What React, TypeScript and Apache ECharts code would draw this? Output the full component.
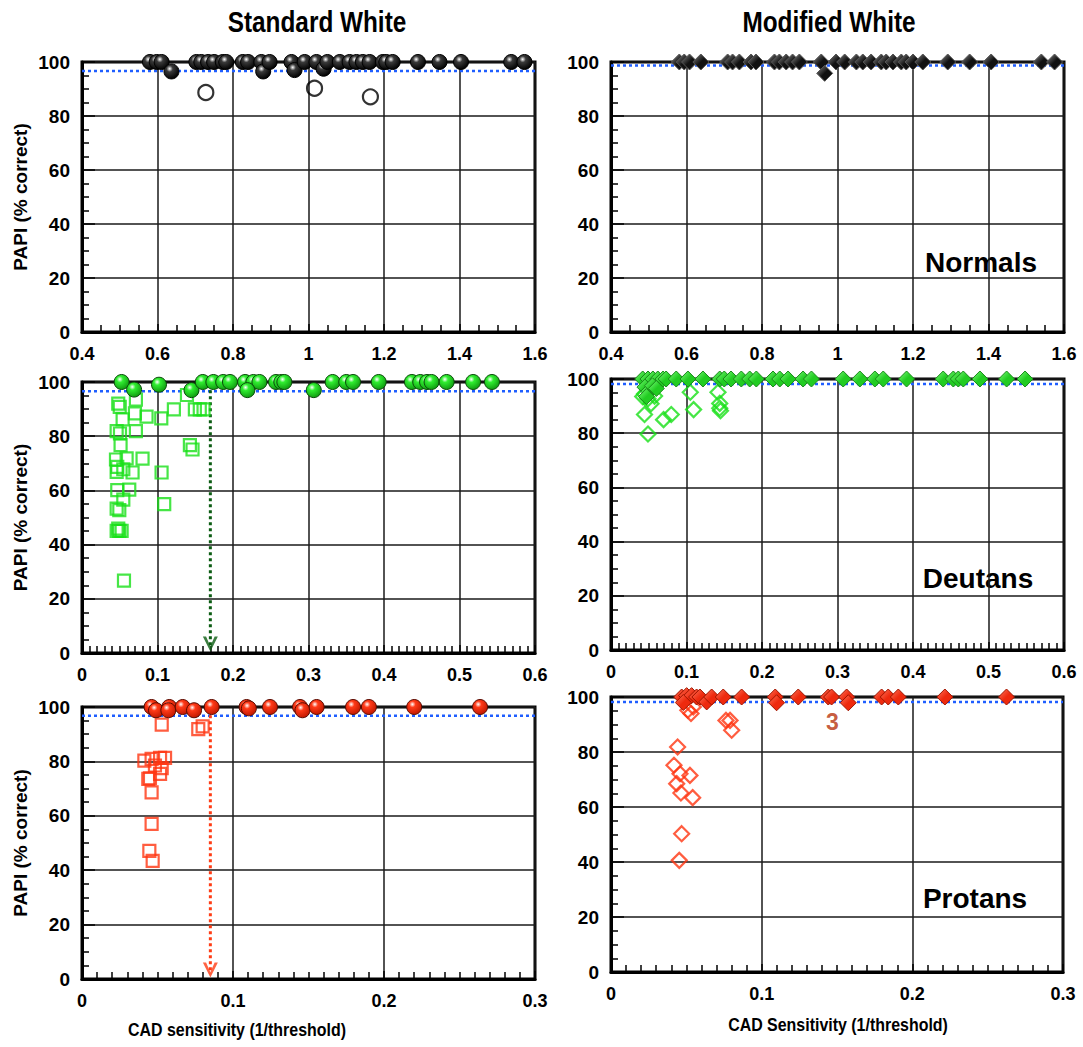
import React, { useEffect, useRef } from "react";
import * as echarts from "echarts";

const FONT = "'Liberation Sans', Arial, Helvetica, sans-serif";

// ---------- Normals ----------
const stdNormalsFilled = [
  [0.58, 100], [0.598, 100], [0.611, 100], [0.637, 96.5], [0.703, 100], [0.716, 100], [0.734, 100],
  [0.75, 100], [0.773, 100], [0.782, 100], [0.826, 100], [0.84, 100], [0.875, 100], [0.88, 96.5],
  [0.897, 100], [0.955, 100], [0.963, 97], [0.99, 100], [1.021, 100], [1.04, 97.5], [1.05, 100],
  [1.083, 100], [1.109, 100], [1.127, 100], [1.144, 100], [1.162, 100], [1.197, 100], [1.206, 100],
  [1.223, 100], [1.29, 100], [1.347, 100], [1.404, 100], [1.537, 100], [1.572, 100],
];
const stdNormalsOpen = [[0.728, 88.7], [1.016, 90.3], [1.164, 87.1]];
const stdNormalsCutoff = 96.7;

const modNormalsFilled = [
  [0.581, 100], [0.594, 100], [0.608, 100], [0.638, 100], [0.709, 100], [0.722, 100], [0.74, 100],
  [0.771, 100], [0.784, 100], [0.833, 100], [0.846, 100], [0.864, 100], [0.881, 100], [0.899, 100],
  [0.957, 100], [0.966, 95.8], [0.996, 100], [1.019, 100], [1.05, 100], [1.067, 100], [1.089, 100],
  [1.116, 100], [1.129, 100], [1.147, 100], [1.169, 100], [1.182, 100], [1.2, 100], [1.226, 100],
  [1.292, 100], [1.35, 100], [1.407, 100], [1.54, 100], [1.575, 100],
];
const modNormalsCutoff = 98.7;

// ---------- Deutans ----------
const stdDeutansFilled = [
  [0.0525, 100], [0.069, 97.2], [0.102, 99], [0.145, 97], [0.16, 100], [0.174, 100], [0.187, 100],
  [0.196, 100], [0.216, 100], [0.227, 100], [0.235, 100], [0.219, 97], [0.257, 100], [0.264, 100],
  [0.268, 100], [0.307, 97], [0.332, 100], [0.35, 100], [0.359, 100], [0.393, 100], [0.437, 100],
  [0.448, 100], [0.457, 100], [0.463, 100], [0.483, 100], [0.518, 100], [0.543, 100],
];
const stdDeutansOpen = [
  [0.048, 92.0], [0.05, 90.8], [0.0714, 93.5], [0.0701, 88.4], [0.0538, 86.2], [0.0855, 87.2],
  [0.105, 86.6], [0.1217, 89.9], [0.139, 95.2], [0.1495, 89.9], [0.156, 89.9], [0.161, 89.9],
  [0.0459, 81.9], [0.0503, 81.0], [0.0714, 81.9], [0.0511, 76.7], [0.1429, 76.7], [0.1464, 75.1],
  [0.045, 71.4], [0.0591, 71.8], [0.0802, 71.7], [0.0467, 68.7], [0.0547, 67.8], [0.0459, 66.8],
  [0.067, 66.6], [0.1054, 66.6], [0.0467, 60.1], [0.0626, 60.3], [0.0547, 56.6], [0.0459, 53.3],
  [0.0494, 52.7], [0.1089, 54.9], [0.048, 45.9], [0.0494, 45.1], [0.0459, 45.1], [0.0525, 45.1],
  [0.0556, 26.7],
];
const stdDeutansCutoff = 96.6;
const stdDeutansArrowX = 0.17;

const modDeutansFilled = [
  [0.042, 100], [0.049, 100], [0.0555, 100], [0.062, 100], [0.069, 100], [0.073, 100], [0.0864, 100],
  [0.1019, 100], [0.1218, 100], [0.144, 100], [0.15, 100], [0.159, 100], [0.1726, 100], [0.1837, 100],
  [0.1925, 100], [0.2146, 100], [0.2235, 100], [0.2345, 100], [0.2544, 100], [0.2655, 100],
  [0.3075, 100], [0.3296, 100], [0.3495, 100], [0.3606, 100], [0.3915, 100], [0.44, 100],
  [0.4534, 100], [0.46, 100], [0.4666, 100], [0.4887, 100], [0.524, 100], [0.5484, 100],
  [0.045, 97], [0.05, 95.5], [0.047, 93.5], [0.055, 97.5], [0.06, 96.5],
];
const modDeutansOpen = [
  [0.0444, 94.5], [0.051, 95.8], [0.055, 97.6], [0.042, 93.5], [0.049, 92.7], [0.053, 90.9],
  [0.0577, 93.7], [0.0444, 86.9], [0.0696, 85.0], [0.0798, 86.9], [0.049, 79.7], [0.105, 95.1],
  [0.1094, 88.7], [0.1417, 95.1], [0.144, 91.0], [0.144, 89.2], [0.145, 88.3],
];
const modDeutansCutoff = 98.2;

// ---------- Protans ----------
const stdProtansFilled = [
  [0.0461, 100], [0.049, 98.8], [0.0578, 100], [0.0572, 98.8], [0.0667, 100], [0.0742, 98.8],
  [0.0859, 100], [0.109, 100], [0.1105, 99.5], [0.1245, 100], [0.1444, 100], [0.146, 98.8],
  [0.1554, 100], [0.1795, 100], [0.19, 100], [0.22, 100], [0.2636, 100],
];
const stdProtansOpen = [
  [0.0528, 93.5], [0.077, 91.9], [0.0799, 92.9], [0.0413, 80.3], [0.0461, 80.9], [0.0517, 81.3],
  [0.055, 81.3], [0.0483, 78.5], [0.0528, 77.5], [0.0517, 75.4], [0.045, 73.8], [0.0439, 73.6],
  [0.0461, 68.6], [0.0461, 57.0], [0.0446, 47.1], [0.0468, 43.4],
];
const stdProtansCutoff = 96.8;
const stdProtansArrowX = 0.085;

const modProtansFilled = [
  [0.0469, 100], [0.0502, 100.5], [0.0535, 100.5], [0.0568, 100], [0.059, 100], [0.048, 98],
  [0.0635, 98.2], [0.0668, 100], [0.0745, 100], [0.0867, 100], [0.109, 100], [0.1099, 97.9],
  [0.1243, 100], [0.1442, 100], [0.1464, 100], [0.1564, 100], [0.1575, 97.9], [0.1796, 100],
  [0.184, 100], [0.1907, 100], [0.2216, 100], [0.2625, 100],
];
const modProtansOpen = [
  [0.0531, 94], [0.0546, 96.4], [0.051, 95.2], [0.0763, 91.5], [0.079, 91.5], [0.0801, 87.9],
  [0.0442, 81.8], [0.0418, 75.2], [0.0458, 72.1], [0.0524, 71.5], [0.0436, 68.5], [0.0464, 65.1],
  [0.0542, 63.4], [0.0469, 50.3], [0.0453, 40.6],
];
const modProtansCutoff = 98.2;
const modProtansNote = { x: 0.147, y: 90.9, text: "3" };

// ---------- axes ----------
const xRanges = [
  { min: 0.4, max: 1.6, interval: 0.2, minor: 4 },
  { min: 0.4, max: 1.6, interval: 0.2, minor: 4 },
  { min: 0, max: 0.6, interval: 0.1, minor: 10 },
  { min: 0, max: 0.6, interval: 0.1, minor: 10 },
  { min: 0, max: 0.3, interval: 0.1, minor: 10 },
  { min: 0, max: 0.3, interval: 0.1, minor: 10 },
];
const yTitle = "PAPI (% correct)";
const colTitles = ["Standard White", "Modified White"];
const groupNames = ["Normals", "Deutans", "Protans"];
const xTitles = ["CAD sensitivity (1/threshold)", "CAD Sensitivity (1/threshold)"];

const grids = [
  { left: 82, top: 62, width: 453, height: 270 },
  { left: 611, top: 62, width: 453, height: 270 },
  { left: 82, top: 382, width: 453, height: 271 },
  { left: 611, top: 379, width: 453, height: 271 },
  { left: 82, top: 707, width: 453, height: 272 },
  { left: 611, top: 697, width: 452, height: 275 },
];

const sphere = (mid: string, edge: string) => ({
  type: "radial", x: 0.38, y: 0.32, r: 0.7,
  colorStops: [
    { offset: 0, color: "#ffffff" },
    { offset: 0.3, color: mid },
    { offset: 1, color: edge },
  ],
});
const diamondFill = (light: string, dark: string) => ({
  type: "linear", x: 0, y: 0, x2: 1, y2: 1,
  colorStops: [
    { offset: 0, color: light },
    { offset: 0.5, color: dark },
    { offset: 1, color: dark },
  ],
});

const CHEVRON = "path://M0,0 L3,0 L7,9 L11,0 L14,0 L7,14 Z";

export default function App() {
  const ref = useRef<HTMLDivElement>(null);
  useEffect(() => {
    if (!ref.current) return;
    const chart = echarts.init(ref.current, undefined, { renderer: "svg" });
    const lbl = { fontFamily: FONT, fontWeight: "bold", fontSize: 18, color: "#000" };

    const xAxis = xRanges.map((r, i) => ({
      type: "value", gridIndex: i, min: r.min, max: r.max, interval: r.interval,
      axisLine: { show: true, onZero: false, lineStyle: { color: "#000", width: 3 } },
      axisTick: { show: true, inside: true, length: 8, lineStyle: { color: "#000", width: 1.5 } },
      minorTick: { show: true, splitNumber: r.minor, length: 7, lineStyle: { color: "#000", width: 1.5 } },
      splitLine: { show: true, lineStyle: { color: "#1a1a1a", width: 1.5 } },
      axisLabel: { ...lbl, margin: 13 },
    }));
    const yAxis = grids.map((_, i) => ({
      type: "value", gridIndex: i, min: 0, max: 100, interval: 20,
      name: i % 2 === 0 ? yTitle : "",
      nameLocation: "middle", nameGap: 52, nameRotate: 90,
      nameTextStyle: { ...lbl, fontSize: 19 },
      axisLine: { show: true, onZero: false, lineStyle: { color: "#000", width: 3 } },
      axisTick: { show: true, inside: true, length: 13, lineStyle: { color: "#000", width: 1.5 } },
      minorTick: { show: true, splitNumber: 4, length: 7, lineStyle: { color: "#000", width: 1.5 } },
      splitLine: { show: true, lineStyle: { color: "#1a1a1a", width: 1.5 } },
      axisLabel: { ...lbl, fontSize: 19, margin: 12 },
    }));

    const series: any[] = [];
    const cutoff = (i: number, v: number) => {
      series.push({
        type: "line", xAxisIndex: i, yAxisIndex: i, silent: true, symbol: "none", z: 2,
        data: [[xRanges[i].min, v], [xRanges[i].max, v]],
        lineStyle: { color: "#1f5eff", width: 2.5, type: [3, 3] },
      });
    };
    const arrow = (i: number, x: number, color: string) => {
      series.push({
        type: "line", xAxisIndex: i, yAxisIndex: i, silent: true, symbol: "none", z: 2,
        data: [[x, 97], [x, 2]],
        lineStyle: { color, width: 3, type: [3, 3] },
      });
      series.push({
        type: "scatter", xAxisIndex: i, yAxisIndex: i, silent: true, z: 3, clip: false,
        data: [[x, 0]], symbol: CHEVRON, symbolSize: [15, 15], symbolOffset: [0, -9],
        itemStyle: { color },
      });
    };
    const open = (i: number, data: number[][], symbol: string, size: number, color: string) => {
      series.push({
        type: "scatter", xAxisIndex: i, yAxisIndex: i, clip: false, z: 4, data, symbol, symbolSize: size,
        itemStyle: { color: "rgba(0,0,0,0)", borderColor: color, borderWidth: 2.2 },
      });
    };
    const filled = (i: number, data: number[][], symbol: string, size: number, fill: any, border: string) => {
      series.push({
        type: "scatter", xAxisIndex: i, yAxisIndex: i, clip: false, z: 5, data, symbol, symbolSize: size,
        itemStyle: { color: fill, borderColor: border, borderWidth: 1, opacity: 1 },
      });
    };

    // Normals
    cutoff(0, stdNormalsCutoff);
    open(0, stdNormalsOpen, "circle", 15, "#000");
    filled(0, stdNormalsFilled, "circle", 15, sphere("#3a3a3a", "#000"), "#000");
    cutoff(1, modNormalsCutoff);
    filled(1, modNormalsFilled, "diamond", 16, diamondFill("#8c8c8c", "#111"), "#555");
    // Deutans
    cutoff(2, stdDeutansCutoff);
    arrow(2, stdDeutansArrowX, "#0b5c12");
    open(2, stdDeutansOpen, "rect", 12, "#18e018");
    filled(2, stdDeutansFilled, "circle", 15, sphere("#30ee30", "#109a10"), "#0a4a0a");
    cutoff(3, modDeutansCutoff);
    open(3, modDeutansOpen, "diamond", 15, "#18e018");
    filled(3, modDeutansFilled, "diamond", 16, diamondFill("#80ff80", "#22cc22"), "#1a8a1a");
    // Protans
    cutoff(4, stdProtansCutoff);
    arrow(4, stdProtansArrowX, "#ff3c14");
    open(4, stdProtansOpen, "rect", 12, "#ff3410");
    filled(4, stdProtansFilled, "circle", 15, sphere("#ff3a18", "#c01800"), "#5a0a00");
    cutoff(5, modProtansCutoff);
    open(5, modProtansOpen, "diamond", 15, "#ff3410");
    filled(5, modProtansFilled, "diamond", 16, diamondFill("#ff7a60", "#ee2a0e"), "#a01500");
    series.push({
      type: "scatter", xAxisIndex: 5, yAxisIndex: 5, silent: true, z: 6,
      data: [[modProtansNote.x, modProtansNote.y]], symbolSize: 0,
      label: {
        show: true, position: "inside", formatter: modProtansNote.text,
        fontFamily: FONT, fontWeight: "bold", fontSize: 23, color: "#b8320c",
      },
    });

    const txt = (text: string, x: number, y: number, size: number, sx = 1) => ({
      type: "text", x, y, scaleX: sx, silent: true,
      style: { text, fontFamily: FONT, fontWeight: "bold", fontSize: size, fill: "#000", align: "center", verticalAlign: "middle" },
    });

    chart.setOption({
      animation: false,
      backgroundColor: "#fff",
      grid: grids.map((g) => ({ ...g, show: true, borderColor: "#000", borderWidth: 3, backgroundColor: "rgba(0,0,0,0)" })),
      xAxis,
      yAxis,
      series,
      graphic: [
        txt(colTitles[0], 317, 22, 29, 0.84),
        txt(colTitles[1], 829, 22, 29, 0.84),
        txt(groupNames[0], 981, 262, 28),
        txt(groupNames[1], 978, 578, 28),
        txt(groupNames[2], 975, 898, 28),
        txt(xTitles[0], 237, 1030, 19, 0.84),
        txt(xTitles[1], 838, 1025, 19, 0.84),
      ],
    });
    return () => chart.dispose();
  }, []);
  return <div ref={ref} style={{ position: "absolute", left: 0, top: 0, width: 1083, height: 1047 }} />;
}
